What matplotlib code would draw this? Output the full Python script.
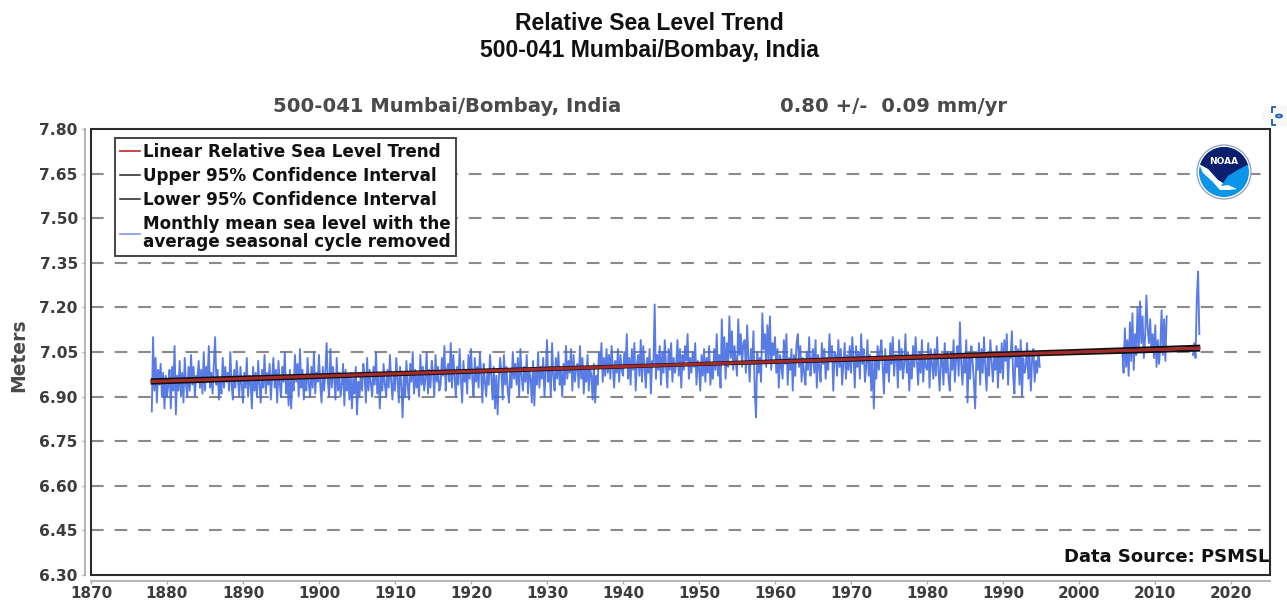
import matplotlib
matplotlib.use("Agg")
import matplotlib.pyplot as plt
from matplotlib.lines import Line2D
from matplotlib.patches import Circle, Polygon, Rectangle
import numpy as np

W, H = 1287, 605
plt.rcParams['lines.scale_dashes'] = False
plt.rcParams['font.family'] = 'DejaVu Sans'
plt.rcParams['font.weight'] = 'bold'

# Monthly-mean sea level, centimetres, six readings per year
msl_1878s = [685,710,692,703,688,699, 694,701,690,698,686,697]
msl_1880s = [690,694,699,686,700,692, 707,684,697,692,702,690, 698,688,703,694,690,700,
             692,704,694,700,690,697, 696,702,693,699,691,705, 692,700,695,707,693,698,
             691,701,710,694,699,689, 696,691,703,693,700,695, 698,692,705,694,689,699,
             693,702,696,690,700,694]
msl_1890s = [688,698,693,703,690,697, 695,686,700,692,698,690, 702,694,688,699,693,704,
             691,698,694,701,689,697, 703,693,699,688,702,694, 690,700,695,705,691,697,
             687,699,686,696,692,704, 695,701,690,706,693,699, 689,697,692,703,694,690,
             700,693,705,691,698,695]
msl_1900s = [704,694,688,700,692,698, 708,695,690,706,693,700, 696,689,703,692,698,690,
             694,701,687,699,692,697, 689,698,686,696,691,700, 684,695,690,698,692,701,
             697,688,703,692,699,694, 690,700,694,705,691,698, 686,697,692,701,694,690,
             699,693,704,695,689,698]
msl_1910s = [692,703,696,688,700,694, 683,698,690,702,694,689, 701,695,705,691,699,693,
             697,690,704,694,700,692, 696,705,691,699,693,702, 698,690,704,695,700,692,
             694,703,697,707,692,699, 701,695,708,693,704,697, 690,700,694,706,696,688,
             702,695,699,691,704,696]
msl_1920s = [706,696,690,703,695,700, 693,705,698,688,701,695, 690,699,694,704,697,689,
             700,686,697,684,696,703, 698,689,704,694,700,692, 688,699,693,705,696,701,
             694,703,690,706,697,692, 700,695,704,691,699,696, 688,702,687,699,694,705,
             693,700,696,703,690,698]
msl_1930s = [709,695,700,690,708,697, 692,703,696,705,694,699, 690,701,694,707,696,702,
             698,706,692,704,695,700, 701,693,707,696,703,691, 699,695,704,692,700,697,
             689,701,688,697,694,705, 700,708,695,703,697,706, 698,704,696,707,700,693,
             702,698,706,695,704,699]
msl_1940s = [697,705,700,711,696,703, 694,706,699,708,692,701, 704,697,709,695,707,700,
             693,703,698,706,691,702, 700,721,696,704,699,707, 694,705,698,709,700,693,
             706,699,708,695,703,698, 701,709,697,706,693,704, 699,707,702,711,696,703,
             698,705,700,708,694,702]
msl_1950s = [700,692,704,697,706,695, 703,698,707,694,701,696, 706,699,711,697,704,693,
             716,701,710,696,708,700, 717,703,712,699,707,702, 697,716,704,711,700,708,
             709,698,714,703,695,706, 701,712,692,683,705,698, 703,695,718,706,711,700,
             714,702,717,699,708,704]
msl_1960s = [710,698,706,693,704,700, 696,709,701,711,694,703, 699,706,692,704,697,708,
             711,700,707,695,703,698, 694,705,699,710,697,702, 706,698,709,693,704,700,
             695,708,701,706,696,703, 699,711,702,707,692,705, 704,697,709,700,706,694,
             701,708,696,704,699,707]
msl_1970s = [698,710,703,693,707,700, 705,696,711,701,706,695, 700,709,697,704,692,703,
             686,702,696,707,699,705, 709,700,691,706,698,703, 695,708,701,710,697,704,
             704,693,709,699,706,696, 701,711,698,705,692,703, 696,707,700,710,702,694,
             705,698,709,695,703,700]
msl_1980s = [699,708,693,706,701,696, 706,697,710,699,692,704, 702,694,708,698,705,696,
             692,705,699,709,695,703, 707,697,715,701,694,704, 698,709,688,703,696,707,
             702,695,686,704,699,708, 694,706,698,710,700,692, 705,697,709,702,695,703,
             699,707,693,705,698,708]
msl_1990s = [696,709,702,711,694,705, 703,712,697,691,707,700, 706,694,709,690,703,698,
             700,708,696,704,692,703, 706,695,702,698,705,700]
msl_2005s = [705,698,713,700,709,697, 715,702,718,699,711,704, 720,706,722,708,717,703,
             710,724,713,708,716,705, 711,703,714,700,709,701, 707,719,704,716,702,717]
msl_2015s = [704,708,703,723,732,711]

years_dense = [1878.0, 2005.7, 2015.0]
readings_per_year = 6
trend_years = [1878.0, 1947.0, 2015.8]
trend_values = [6.951, 7.007, 7.063]
upper_values = [6.958, 7.010, 7.071]
lower_values = [6.944, 7.004, 7.055]
y_ticks = [6.30, 6.45, 6.60, 6.75, 6.90, 7.05, 7.20, 7.35, 7.50, 7.65, 7.80]
x_ticks = list(range(1870, 2021, 10))

dpi = 100
fig = plt.figure(figsize=(W / dpi, H / dpi), dpi=dpi, facecolor='white')
L, R, T, B = 91, 1270, 129, 575
ax = fig.add_axes([L / W, 1 - B / H, (R - L) / W, (B - T) / H])
ax.set_xlim(1870, 1870 + (R - L) / 7.6)
ax.set_ylim(6.30, 7.80)

px = lambda x, y: (x / W, 1 - y / H)
tf = fig.transFigure

ax.set_yticks(y_ticks)
ax.set_yticklabels([f'{v:.2f}' for v in y_ticks])
ax.set_xticks(x_ticks)
ax.tick_params(axis='both', length=2.5, width=1.0, color='#aaaaaa', labelcolor='#3c3c3c')
ax.tick_params(axis='y', labelsize=11.2, pad=3)
ax.tick_params(axis='x', labelsize=10.9, pad=1.5)

for side in ('top', 'right'):
    ax.spines[side].set_visible(False)
for side in ('left', 'bottom'):
    ax.spines[side].set_position(('outward', 4))
    ax.spines[side].set_color('#b4b4b4')
    ax.spines[side].set_linewidth(1.4)

for v in y_ticks[1:-1]:
    ax.axhline(v, color='#8a8a8a', lw=1.5, dashes=(9.1, 7.9), zorder=1)

ax.add_patch(Rectangle((0, 0), 1, 1, transform=ax.transAxes, fill=False,
                       ec='#2a2a2a', lw=1.5, zorder=6, clip_on=False))

blue = '#4169e1'
early = msl_1878s + msl_1880s + msl_1890s + msl_1900s + msl_1910s + msl_1920s + msl_1930s \
        + msl_1940s + msl_1950s + msl_1960s + msl_1970s + msl_1980s + msl_1990s
for start, seg in zip(years_dense, (early, msl_2005s, msl_2015s)):
    xs = start + np.arange(len(seg)) / readings_per_year
    ax.plot(xs, np.array(seg) / 100, color=blue, lw=1.35, alpha=0.88, zorder=2)

ax.plot(trend_years, upper_values, color='#111111', lw=1.6, zorder=3)
ax.plot(trend_years, lower_values, color='#111111', lw=1.6, zorder=3)
ax.plot(trend_years, trend_values, color='#a52a2a', lw=2.2, zorder=4)

handles = [Line2D([], [], color='#c8383c', lw=1.3),
           Line2D([], [], color='#222222', lw=1.1),
           Line2D([], [], color='#222222', lw=1.1),
           Line2D([], [], color='#88a4ee', lw=1.3)]
labels = ['Linear Relative Sea Level Trend', 'Upper 95% Confidence Interval',
          'Lower 95% Confidence Interval', 'Monthly mean sea level with the\naverage seasonal cycle removed']
leg = ax.legend(handles, labels, loc='upper left', bbox_to_anchor=px(115, 138),
                bbox_transform=tf, borderaxespad=0, fancybox=False, framealpha=1,
                edgecolor='#444444', prop={'weight': 'bold', 'size': 12.1},
                handlelength=1.15, handletextpad=0.2, labelspacing=0.34,
                borderpad=0.32, labelcolor='#111111')
leg.get_texts()[3].set_linespacing(1.0)
leg.get_frame().set_linewidth(1.4)
leg.set_zorder(5)

fig.text(*px(649, 24), 'Relative Sea Level Trend', ha='center', va='center',
         family='Liberation Sans', weight='bold', fontsize=16.6, color='#111111')
fig.text(*px(649, 50), '500-041 Mumbai/Bombay, India', ha='center', va='center',
         family='Liberation Sans', weight='bold', fontsize=16.6, color='#111111')
fig.text(*px(273, 107), '500-041 Mumbai/Bombay, India', ha='left', va='center',
         weight='bold', fontsize=14.1, color='#4a4a4a')
fig.text(*px(780, 107), '0.80 +/-  0.09 mm/yr', ha='left', va='center',
         weight='bold', fontsize=14.1, color='#4a4a4a')
fig.text(*px(19, 355), 'Meters', rotation=90, ha='center', va='center',
         weight='bold', fontsize=13.5, color='#4a4a4a')

src = ax.text(0, 0, 'Data Source: PSMSL', transform=tf, ha='left', va='center',
              weight='bold', fontsize=13.0, color='#111111', zorder=5)
src.set_position(px(1064, 557))
src.set_clip_box(ax.bbox)
src.set_clip_on(True)

# NOAA emblem
cx, cy, r = 1224, 172, 28
eax = fig.add_axes([(cx - r) / W, 1 - (cy + r) / H, 2 * r / W, 2 * r / H], zorder=8)
eax.set_xlim(-r, r); eax.set_ylim(-r, r); eax.axis('off')
eax.add_patch(Circle((0, 0), 27, fc='white', ec='#8f9cc0', lw=0.9))
eax.add_patch(Circle((0, 0), 25, fc='#0a96e8', ec='none'))
top = Circle((0, 0), 25, fc='#0a1f6e', ec='none')
eax.add_patch(top)
wedge = Polygon([(-26, 8), (-16, 3), (-6, -8), (-1, -11), (4, -4), (14, 2), (26, 8), (26, 26), (-26, 26)],
                fc='none', ec='none', transform=eax.transData)
eax.add_patch(wedge)
top.set_clip_path(wedge)
eax.add_patch(Polygon([(-25, 8), (-16, 3), (-6, -8), (-1, -11), (-3, -14), (4, -13), (13, -17), (5, -18),
                       (-4, -18), (-12, -9), (-21, -1)], fc='white', ec='none'))
eax.add_patch(Polygon([(4, -4), (14, 2), (25, 8), (20, 0), (11, -8), (3, -10)], fc='#0a96e8', ec='none'))
eax.text(0, 11, 'NOAA', color='white', ha='center', va='center', fontsize=6.5, weight='bold')

# Screen-capture badge at the right edge of the picture
fig.add_artist(Circle(px(1285, 116), 24 / W, transform=tf, fc='#f7f7f7', ec='none', zorder=-1))
for xs_, ys_ in (([1275, 1272, 1272], [107, 107, 112]), ([1272, 1272, 1275], [120, 125, 125])):
    fig.add_artist(Line2D([x / W for x in xs_], [1 - y / H for y in ys_], color='#2a66b8', lw=1.4, transform=tf))
fig.add_artist(Circle(px(1279, 116), 3.0 / W, transform=tf, fc='none', ec='#2a66b8', lw=1.4))

fig.savefig('out.png', dpi=dpi, facecolor='white')
